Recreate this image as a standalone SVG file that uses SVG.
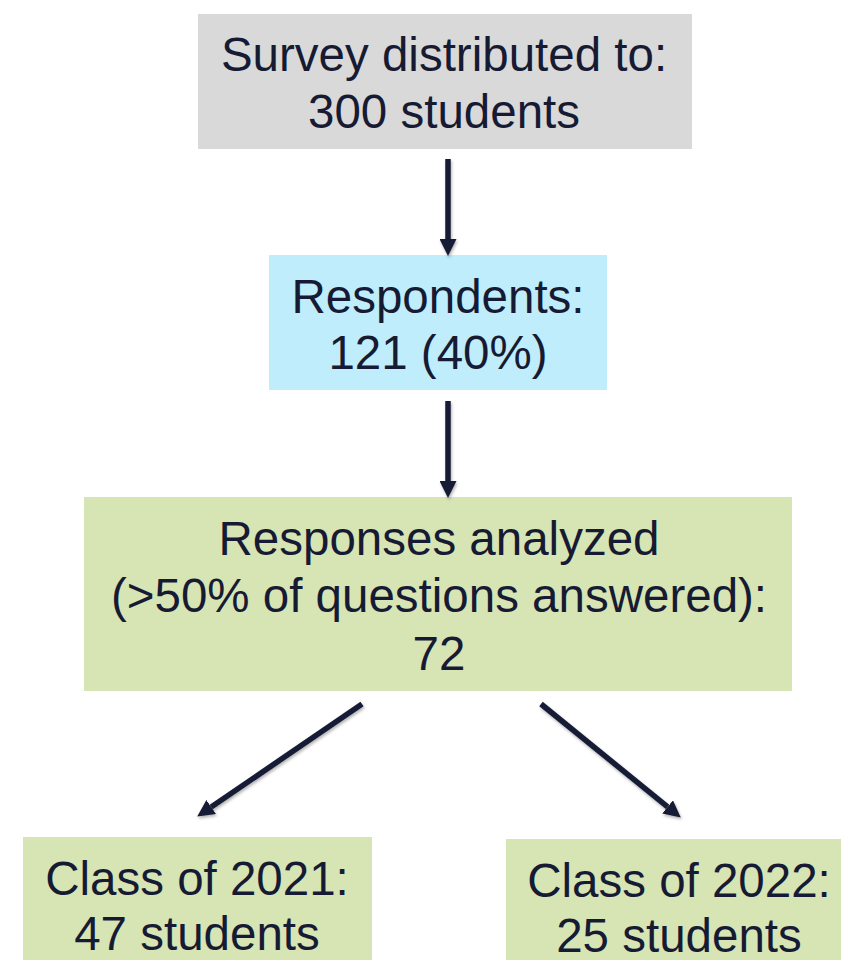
<svg xmlns="http://www.w3.org/2000/svg" width="841" height="960" viewBox="0 0 841 960">
  <style>
    .label { font-family: "Liberation Sans", Arial, sans-serif; font-size: 47.5px; fill: #161b33; text-anchor: middle; }
    .edge { stroke: #171c36; stroke-width: 5.5; fill: none; marker-end: url(#head); }
  </style>
  <defs>
    <marker id="head" markerUnits="userSpaceOnUse" markerWidth="17" markerHeight="17" refX="0" refY="8" orient="auto" viewBox="0 0 16 16">
      <path d="M0,0 L16,8 L0,16 Z" fill="#171c36"/>
    </marker>
    <filter id="shade" x="-20%" y="-20%" width="140%" height="140%">
      <feDropShadow dx="1" dy="2" stdDeviation="1.5" flood-color="#000" flood-opacity="0.3"/>
    </filter>
  </defs>

  <rect width="841" height="960" fill="#ffffff"/>

  <!-- flow boxes -->
  <g id="distributed">
    <rect x="198" y="14" width="494" height="135" fill="#d9d9d9"/>
    <text class="label" x="444" y="71">Survey distributed to:</text>
    <text class="label" x="444" y="128">300 students</text>
  </g>

  <g id="respondents">
    <rect x="269" y="255" width="338" height="135" fill="#bfedfc"/>
    <text class="label" x="438" y="313">Respondents:</text>
    <text class="label" x="438" y="369">121 (40%)</text>
  </g>

  <g id="analyzed">
    <rect x="84" y="497" width="708" height="194" fill="#d7e4b4"/>
    <text class="label" x="439" y="555">Responses analyzed</text>
    <text class="label" x="439" y="612">(&gt;50% of questions answered):</text>
    <text class="label" x="439" y="670">72</text>
  </g>

  <g id="class2021">
    <rect x="23" y="837" width="349" height="123" fill="#d7e4b4"/>
    <text class="label" x="197" y="895">Class of 2021:</text>
    <text class="label" x="197" y="950">47 students</text>
  </g>

  <g id="class2022">
    <rect x="506" y="839" width="346" height="121" fill="#d7e4b4"/>
    <text class="label" x="679" y="897">Class of 2022:</text>
    <text class="label" x="679" y="952">25 students</text>
  </g>

  <!-- connectors -->
  <g id="connectors" filter="url(#shade)">
    <line class="edge" x1="448" y1="159" x2="448" y2="239"/>
    <line class="edge" x1="448" y1="401" x2="448" y2="481"/>
    <line class="edge" x1="362" y1="704" x2="211.2" y2="807"/>
    <line class="edge" x1="541" y1="704" x2="667.6" y2="806.9"/>
  </g>
</svg>
